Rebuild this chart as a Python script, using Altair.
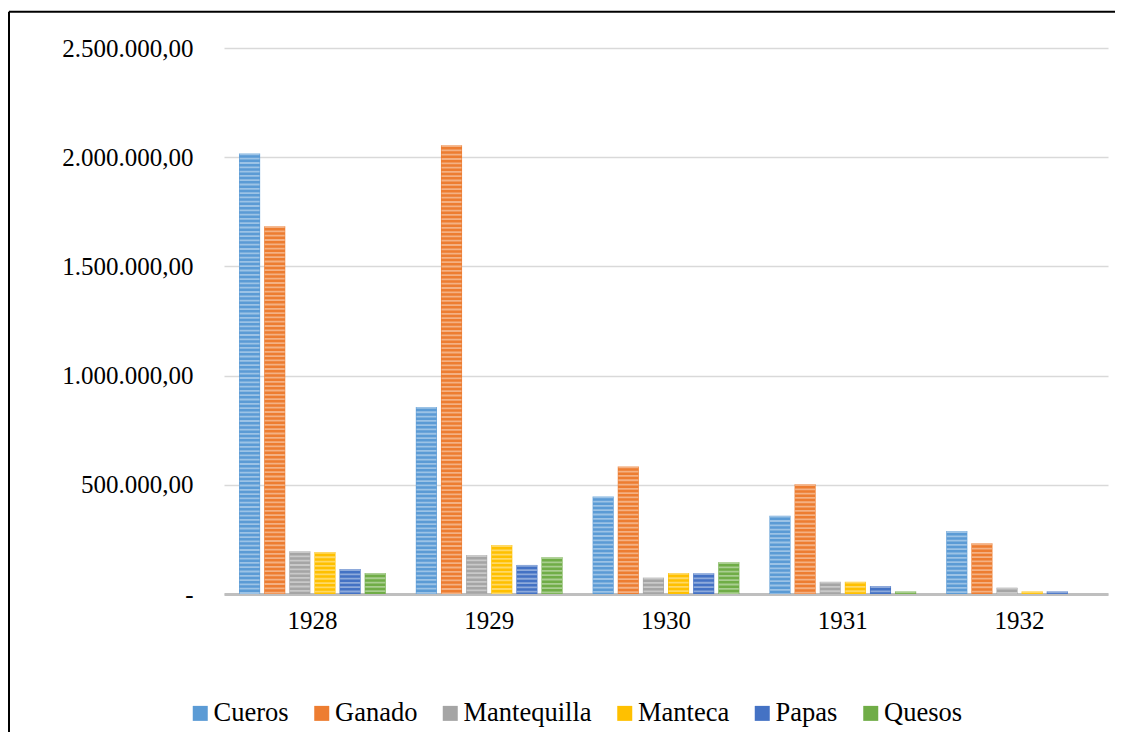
import altair as alt
import pandas as pd

years = ["1928", "1929", "1930", "1931", "1932"]
series = ["Cueros", "Ganado", "Mantequilla", "Manteca", "Papas", "Quesos"]
colors = ["#5B9BD5", "#ED7D31", "#A5A5A5", "#FFC000", "#4472C4", "#70AD47"]

cueros = [2017000, 856000, 447000, 358000, 288000]
ganado = [1684000, 2055000, 584000, 503000, 232000]
mantequilla = [196000, 178000, 75000, 56000, 29000]
manteca = [192000, 224000, 96000, 56000, 12000]
papas = [114000, 133000, 95000, 36000, 12000]
quesos = [96000, 169000, 146000, 12000, 0]

values = [cueros, ganado, mantequilla, manteca, papas, quesos]
rows = []
for s, vals in zip(series, values):
    for y, v in zip(years, vals):
        rows.append({"year": y, "series": s, "value": v})
df = pd.DataFrame(rows)

FONT = "Liberation Serif"

x_enc = alt.X("year:N", sort=years, title=None,
              scale=alt.Scale(paddingInner=0.17, paddingOuter=0.085),
              axis=alt.Axis(labelFontSize=25, labelFont=FONT, labelColor="black",
                            labelAngle=0, ticks=False, labelPadding=14,
                            domainColor="#BFBFBF", domainWidth=3, grid=False))
xo_enc = alt.XOffset("series:N", sort=series,
                     scale=alt.Scale(paddingInner=0.16))
y_enc = alt.Y("value:Q", title=None,
              scale=alt.Scale(domain=[0, 2500000]),
              axis=alt.Axis(values=[0, 500000, 1000000, 1500000, 2000000, 2500000],
                            format=",.2f",
                            labelExpr="datum.value == 0 ? '-\u00a0\u00a0' : datum.label",
                            labelFontSize=25, labelFont=FONT, labelColor="black",
                            ticks=False, domain=False, labelPadding=31,
                            gridColor="#D9D9D9", gridWidth=1.3))

bars = alt.Chart(df).mark_bar().encode(
    x=x_enc, xOffset=xo_enc, y=y_enc,
    fill=alt.Fill("series:N", sort=series,
                  scale=alt.Scale(domain=series, range=colors),
                  legend=alt.Legend(title=None, orient="none", direction="horizontal",
                                    legendX=-37, legendY=652, padding=0,
                                    labelFont=FONT, labelFontSize=26.5, labelColor="black",
                                    symbolType="square", symbolSize=225,
                                    symbolStrokeWidth=0, labelOffset=0,
                                    columnPadding=19.5)),
)

stripes = alt.Chart(df).mark_rule(color="white", opacity=0.4, strokeWidth=20,
                                  strokeDash=[1.8, 2.5]).encode(
    x=x_enc, xOffset=xo_enc, y=y_enc, y2=alt.datum(0),
)

frame_df = pd.DataFrame({"k": [0]})
top_border = alt.Chart(frame_df).mark_rule(color="black", strokeWidth=2).encode(
    x=alt.value(-215), x2=alt.value(1300), y=alt.value(-36.2))
left_border = alt.Chart(frame_df).mark_rule(color="black", strokeWidth=2).encode(
    x=alt.value(-215), y=alt.value(-36.2), y2=alt.value(900))

chart = alt.layer(bars, stripes, top_border, left_border).properties(
    width=884, height=546,
    autosize=alt.AutoSizeParams(type="none"),
    padding={"left": 216, "top": 40, "right": 7, "bottom": 138},
).configure(font=FONT).configure_view(strokeWidth=0)

chart.save("out.html", embed_options={
    "renderer": "svg", "actions": False,
    "formatLocale": {"decimal": ",", "thousands": ".", "grouping": [3],
                     "currency": ["$", ""]},
})
